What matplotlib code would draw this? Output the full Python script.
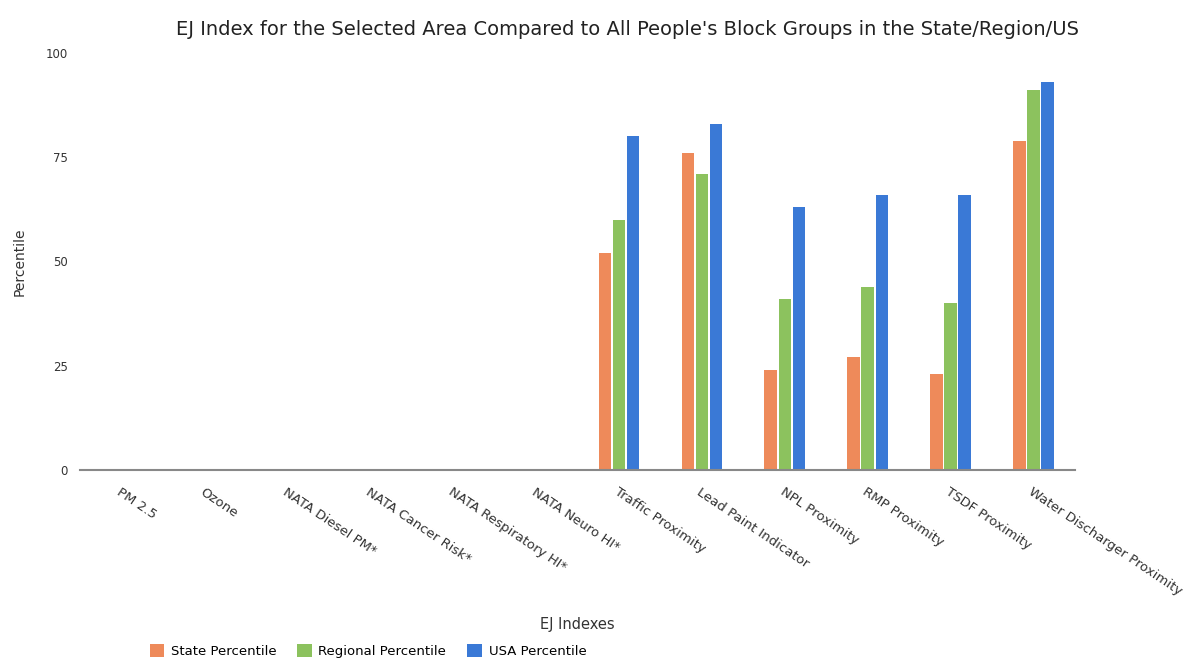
import numpy as np
import matplotlib
matplotlib.use('Agg')
import matplotlib.pyplot as plt

# EJ index categories (x axis)
categories = ['PM 2.5', 'Ozone', 'NATA Diesel PM*', 'NATA Cancer Risk*',
              'NATA Respiratory HI*', 'NATA Neuro HI*', 'Traffic Proximity',
              'Lead Paint Indicator', 'NPL Proximity', 'RMP Proximity',
              'TSDF Proximity', 'Water Discharger Proximity']

# percentiles (first six have no data)
state_pct = [0, 0, 0, 0, 0, 0, 52, 76, 24, 27, 23, 79]
regional_pct = [0, 0, 0, 0, 0, 0, 60, 71, 41, 44, 40, 91]
usa_pct = [0, 0, 0, 0, 0, 0, 80, 83, 63, 66, 66, 93]

series_names = ['State Percentile', 'Regional Percentile', 'USA Percentile']
colors = ['#EE8A5A', '#8CC25E', '#3A79D6']
yticks = [0, 25, 50, 75, 100]

fig = plt.figure(figsize=(11.97, 6.62), dpi=100)
ax = fig.add_axes([0.067, 0.29, 0.831, 0.63])

x = np.arange(len(categories))
width = 0.15
step = 0.17
for i, (vals, name, c) in enumerate(zip([state_pct, regional_pct, usa_pct], series_names, colors)):
    ax.bar(x + (i - 1) * step, vals, width, color=c, label=name)

ax.set_xlim(-0.5, len(categories) - 0.5)
ax.set_ylim(0, 100)
ax.set_yticks(yticks)
ax.set_xticks(x)
ax.set_xticklabels(categories, rotation=-34, ha='left', va='top',
                   rotation_mode='anchor', fontsize=9.5, color='#333333')
ax.tick_params(axis='both', length=0, colors='#333333')
ax.tick_params(axis='y', labelsize=8.5, pad=9)
ax.tick_params(axis='x', pad=11)

for s in ['top', 'right', 'left']:
    ax.spines[s].set_visible(False)
ax.spines['bottom'].set_color('#888888')
ax.spines['bottom'].set_linewidth(1.5)

# title, axis labels placed in figure coords
fig.text(0.524, 0.955, "EJ Index for the Selected Area Compared to All People's Block Groups in the State/Region/US",
         ha='center', va='center', fontsize=14, color='#222222')
fig.text(0.016, 0.605, 'Percentile', rotation=90, ha='center', va='center', fontsize=10, color='#333333')
fig.text(0.482, 0.056, 'EJ Indexes', ha='center', va='center', fontsize=10.5, color='#333333')

fig.legend(loc='lower left', bbox_to_anchor=(0.115, -0.012), ncol=3, frameon=False,
           fontsize=9.5, handlelength=1.1, handleheight=1.1, columnspacing=1.6,
           handletextpad=0.5)

fig.savefig('out.png', dpi=100, facecolor='white')
